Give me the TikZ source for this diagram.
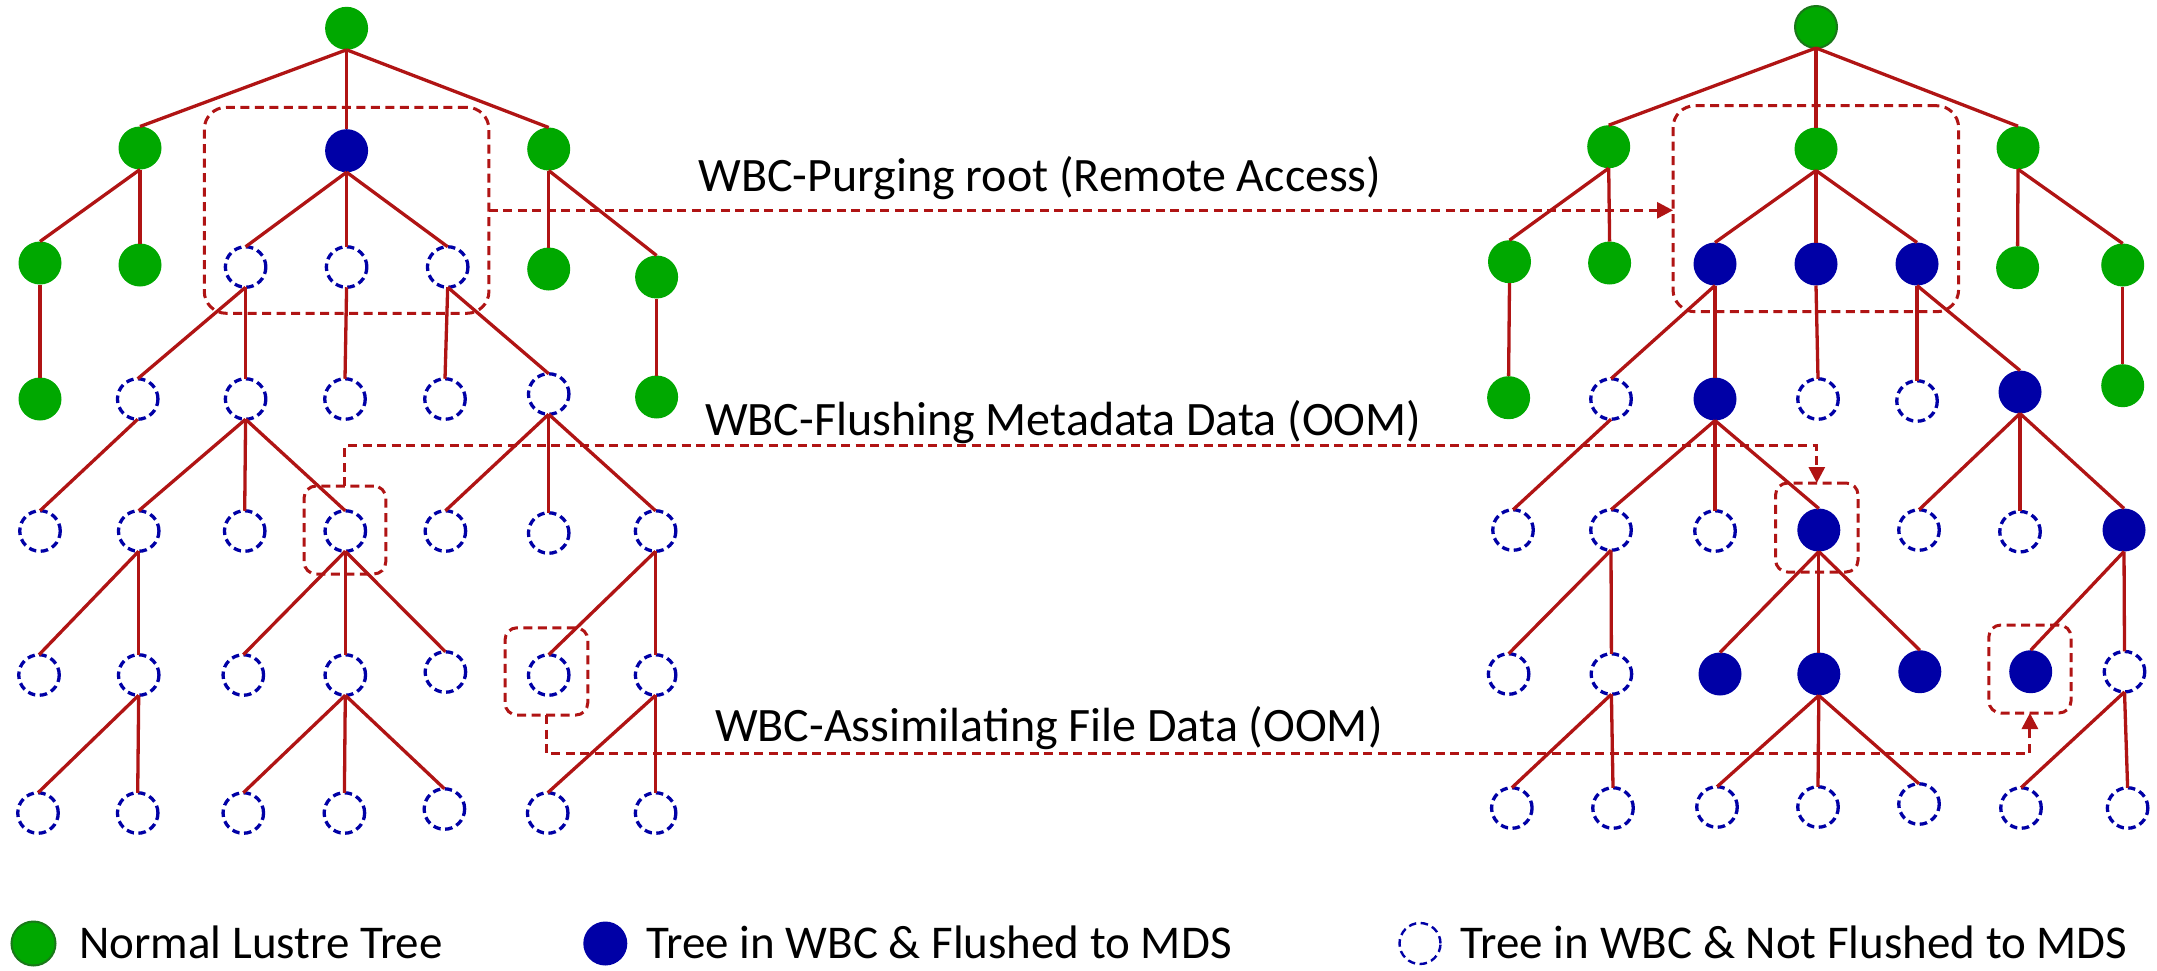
\documentclass[tikz,border=0pt]{standalone}
\usepackage{fontspec}
\setmainfont{Carlito}
\usetikzlibrary{arrows.meta}
\definecolor{lgreen}{RGB}{0,168,0}
\definecolor{dgreen}{RGB}{25,120,25}
\definecolor{lblue}{RGB}{0,0,166}
\definecolor{ered}{RGB}{176,20,20}
\begin{document}
\begin{tikzpicture}[x=1pt,y=-1pt,
  every node/.style={inner sep=0pt, outer sep=0pt},
  gnode/.style={circle, fill=lgreen, minimum size=43pt},
  gnodeb/.style={circle, fill=lgreen, draw=dgreen, line width=2pt, minimum size=42pt},
  bnode/.style={circle, fill=lblue, minimum size=43pt},
  dnode/.style={circle, draw=lblue, line width=3.3pt, dash pattern=on 7.5pt off 4.5pt, minimum size=40.5pt},
  treeline/.style={draw=ered, line width=3.3pt},
  selbox/.style={draw=ered, line width=3pt, dash pattern=on 9pt off 5.5pt, rounded corners=12pt},
  conn/.style={draw=ered, line width=3pt, dash pattern=on 9pt off 5.5pt},
  arrowend/.style={-{Triangle[length=16pt,width=16pt]}},
  lbl/.style={anchor=base west, font=\fontsize{48}{58}\selectfont},
  lgd/.style={anchor=base west, font=\fontsize{47}{56}\selectfont},
]
\useasboundingbox (0,0) rectangle (2157,970);

% ---------------- left tree ----------------
\node[gnode] (L0) at (346.6,28.3) {};
\node[gnode] (L1a) at (140,148) {};
\node[bnode] (L1b) at (346.6,150.7) {};
\node[gnode] (L1c) at (548.7,149) {};
\node[gnode] (L2a) at (40,263) {};
\node[gnode] (L2b) at (140,265) {};
\node[dnode] (L2c) at (245.6,267) {};
\node[dnode] (L2d) at (346.6,267) {};
\node[dnode] (L2e) at (447.7,267) {};
\node[gnode] (L2f) at (548.7,269) {};
\node[gnode] (L2g) at (656.6,277) {};
\node[gnode] (L3a) at (40,399) {};
\node[dnode] (L3b) at (137.7,399) {};
\node[dnode] (L3c) at (245.6,399) {};
\node[dnode] (L3d) at (345,399) {};
\node[dnode] (L3e) at (445,399) {};
\node[dnode] (L3f) at (548.7,394) {};
\node[gnode] (L3g) at (656.6,397) {};
\node[dnode] (L4a) at (40,531) {};
\node[dnode] (L4b) at (138.7,531) {};
\node[dnode] (L4c) at (244.7,531) {};
\node[dnode] (L4d) at (345.3,531) {};
\node[dnode] (L4e) at (445.4,531) {};
\node[dnode] (L4f) at (548.7,533) {};
\node[dnode] (L4g) at (655.6,531) {};
\node[dnode] (L5a) at (39,675) {};
\node[dnode] (L5b) at (138.7,675) {};
\node[dnode] (L5c) at (243.3,675) {};
\node[dnode] (L5d) at (345.3,675) {};
\node[dnode] (L5e) at (445.4,672) {};
\node[dnode] (L5f) at (548.7,675) {};
\node[dnode] (L5g) at (655.6,675) {};
\node[dnode] (L6a) at (38,813) {};
\node[dnode] (L6b) at (137.7,813) {};
\node[dnode] (L6c) at (243.3,813) {};
\node[dnode] (L6d) at (344.4,813) {};
\node[dnode] (L6e) at (444.4,809) {};
\node[dnode] (L6f) at (547.7,813) {};
\node[dnode] (L6g) at (655.6,813) {};

% ---------------- right tree ----------------
\node[gnodeb] (R0) at (1816,27) {};
\node[gnode] (R1a) at (1608.7,146.7) {};
\node[gnode] (R1b) at (1816,149) {};
\node[gnode] (R1c) at (2018,147.7) {};
\node[gnode] (R2a) at (1509.5,261.7) {};
\node[gnode] (R2b) at (1609.6,263) {};
\node[bnode] (R2c) at (1715,264) {};
\node[bnode] (R2d) at (1816,264) {};
\node[bnode] (R2e) at (1917,264) {};
\node[gnode] (R2f) at (2017.6,267.7) {};
\node[gnode] (R2g) at (2122.7,265) {};
\node[gnode] (R3a) at (1508.6,397.7) {};
\node[dnode] (R3b) at (1611,399) {};
\node[bnode] (R3c) at (1715,399) {};
\node[dnode] (R3d) at (1818,399) {};
\node[dnode] (R3e) at (1917,401) {};
\node[bnode] (R3f) at (2020,392) {};
\node[gnode] (R3g) at (2122.7,385.7) {};
\node[dnode] (R4a) at (1513,530) {};
\node[dnode] (R4b) at (1611,530) {};
\node[dnode] (R4c) at (1715,531) {};
\node[bnode] (R4d) at (1818.8,530) {};
\node[dnode] (R4e) at (1919,530) {};
\node[dnode] (R4f) at (2020,531.7) {};
\node[bnode] (R4g) at (2124,530) {};
\node[dnode] (R5a) at (1508.6,674) {};
\node[dnode] (R5b) at (1611.4,674) {};
\node[bnode] (R5c) at (1720,674) {};
\node[bnode] (R5d) at (1818.8,674) {};
\node[bnode] (R5e) at (1919.8,671.7) {};
\node[bnode] (R5f) at (2030.7,671.7) {};
\node[dnode] (R5g) at (2124.5,671.7) {};
\node[dnode] (R6a) at (1511.8,808) {};
\node[dnode] (R6b) at (1613,808) {};
\node[dnode] (R6c) at (1717,807) {};
\node[dnode] (R6d) at (1818,807) {};
\node[dnode] (R6e) at (1919,804) {};
\node[dnode] (R6f) at (2021,808) {};
\node[dnode] (R6g) at (2127.6,808) {};

% ---------------- tree edges (same shape on both sides) ----------------
\foreach \p in {L,R}{
  \foreach \a/\b in {0/1a,0/1b,0/1c,
                     1a/2a,1a/2b,1b/2c,1b/2d,1b/2e,1c/2f,1c/2g,
                     2a/3a,2c/3b,2c/3c,2d/3d,2e/3e,2e/3f,2g/3g,
                     3b/4a,3c/4b,3c/4c,3c/4d,3f/4e,3f/4f,3f/4g,
                     4b/5a,4b/5b,4d/5c,4d/5d,4d/5e,4g/5f,4g/5g,
                     5b/6a,5b/6b,5d/6c,5d/6d,5d/6e,5g/6f,5g/6g}
    \draw[treeline] (\p\a.south) -- (\p\b.north);
}

% ---------------- selection boxes ----------------
\node[selbox, rounded corners=22pt, minimum width=284.7pt, minimum height=206pt] (bL1) at (346.6,210.3) {};
\node[selbox, rounded corners=22pt, minimum width=285.6pt, minimum height=206pt] (bR1) at (1815.8,208.7) {};
\node[selbox, minimum width=81.7pt, minimum height=88pt] (bL2) at (344.9,530) {};
\node[selbox, minimum width=82.5pt, minimum height=89pt] (bR2) at (1816.8,527.5) {};
\node[selbox, minimum width=82.7pt, minimum height=87.3pt] (bL3) at (546.4,671.4) {};
\node[selbox, minimum width=82.2pt, minimum height=88pt] (bR3) at (2029.9,669) {};

% ---------------- operation connectors ----------------
\draw[conn, arrowend] (bL1.east) -- (bL1.east -| bR1.west);
\coordinate (k2) at (344.9,445.7);
\draw[conn, arrowend] (bL2.north) -- (k2) -| (bR2.north);
\coordinate (k3) at (546.4,753.5);
\draw[conn, arrowend] (bL3.south) -- (k3) -| (bR3.south);

\node[lbl] (t1) at (698.3,191.7) {WBC-Purging root (Remote Access)};
\node[lbl] (t2) at (705,435) {WBC-Flushing Metadata Data (OOM)};
\node[lbl] (t3) at (715,741.7) {WBC-Assimilating File Data (OOM)};

% ---------------- legend ----------------
\node[gnodeb, minimum size=44pt] (k1) at (33.5,943.5) {};
\node[lgd] (kt1) at (79.3,958.3) {Normal Lustre Tree};
\node[bnode, minimum size=44pt] (k2n) at (605.3,943.5) {};
\node[lgd] (kt2) at (646.5,958.3) {Tree in WBC \& Flushed to MDS};
\node[dnode, line width=2.4pt, minimum size=41pt] (k3n) at (1420,943.5) {};
\node[lgd] (kt3) at (1460.8,958.3) {Tree in WBC \& Not Flushed to MDS};
\end{tikzpicture}
\end{document}
